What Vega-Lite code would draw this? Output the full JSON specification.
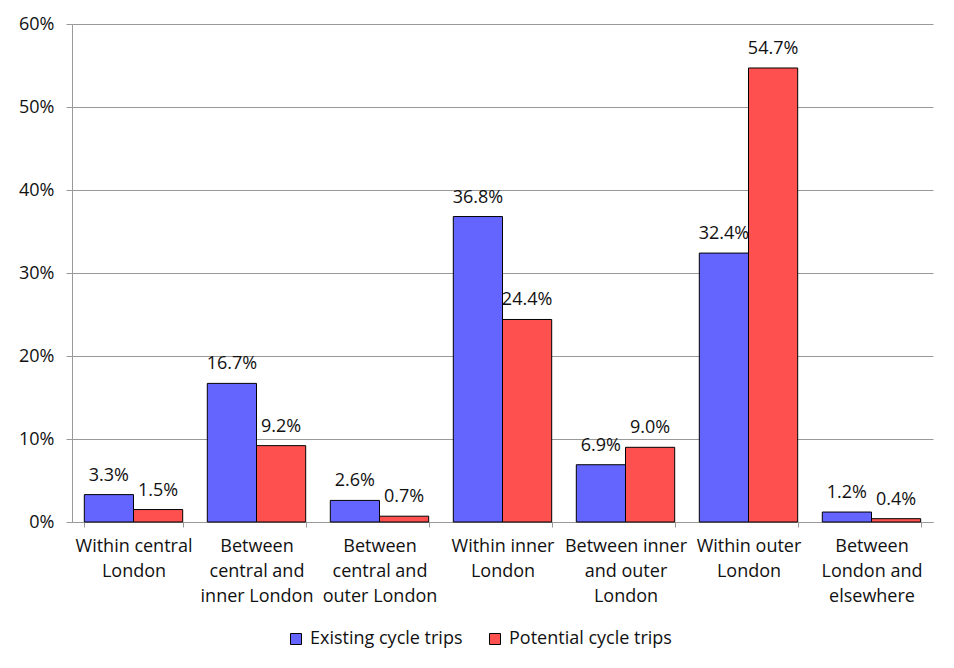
{
  "$schema": "https://vega.github.io/schema/vega-lite/v6.json",
  "width": 861,
  "height": 498,
  "autosize": {"type": "none"},
  "padding": {"left": 72, "top": 24, "right": 21, "bottom": 146},
  "background": "white",
  "config": {
    "font": "Open Sans",
    "view": {"stroke": null},
    "axis": {"labelFont": "Open Sans", "labelFontSize": 18, "labelColor": "#111111", "titleFont": "Open Sans"},
    "legend": {"labelFont": "Open Sans", "labelFontSize": 18, "labelColor": "#111111"}
  },
  "data": {
    "values": [
      {"category": "Within central|London", "series": "Existing cycle trips", "value": 0.033},
      {"category": "Within central|London", "series": "Potential cycle trips", "value": 0.015},
      {"category": "Between|central and|inner London", "series": "Existing cycle trips", "value": 0.167},
      {"category": "Between|central and|inner London", "series": "Potential cycle trips", "value": 0.092},
      {"category": "Between|central and|outer London", "series": "Existing cycle trips", "value": 0.026},
      {"category": "Between|central and|outer London", "series": "Potential cycle trips", "value": 0.007},
      {"category": "Within inner|London", "series": "Existing cycle trips", "value": 0.368},
      {"category": "Within inner|London", "series": "Potential cycle trips", "value": 0.244},
      {"category": "Between inner|and outer|London", "series": "Existing cycle trips", "value": 0.069},
      {"category": "Between inner|and outer|London", "series": "Potential cycle trips", "value": 0.090},
      {"category": "Within outer|London", "series": "Existing cycle trips", "value": 0.324},
      {"category": "Within outer|London", "series": "Potential cycle trips", "value": 0.547},
      {"category": "Between|London and|elsewhere", "series": "Existing cycle trips", "value": 0.012},
      {"category": "Between|London and|elsewhere", "series": "Potential cycle trips", "value": 0.004}
    ]
  },
  "encoding": {
    "x": {
      "field": "category",
      "type": "nominal",
      "sort": null,
      "scale": {"paddingInner": 0.2, "paddingOuter": 0.1},
      "axis": {
        "title": null,
        "labelAngle": 0,
        "labelExpr": "split(datum.label, '|')",
        "labelBaseline": "top",
        "labelPadding": 10,
        "labelLineHeight": 25,
        "labelLimit": 0,
        "tickBand": "extent",
        "tickSize": 5,
        "tickColor": "#999999",
        "domainColor": "#999999",
        "grid": false
      }
    },
    "xOffset": {"field": "series", "type": "nominal", "sort": ["Existing cycle trips", "Potential cycle trips"]},
    "y": {
      "field": "value",
      "type": "quantitative",
      "scale": {"domain": [0, 0.6], "nice": false},
      "axis": {
        "title": null,
        "format": ".0%",
        "values": [0, 0.1, 0.2, 0.3, 0.4, 0.5, 0.6],
        "tickSize": 6,
        "tickColor": "#999999",
        "domainColor": "#999999",
        "gridColor": "#999999",
        "labelPadding": 12
      }
    }
  },
  "layer": [
    {
      "mark": {"type": "bar", "stroke": "black", "strokeWidth": 1},
      "encoding": {
        "color": {
          "field": "series",
          "type": "nominal",
          "sort": ["Existing cycle trips", "Potential cycle trips"],
          "scale": {"domain": ["Existing cycle trips", "Potential cycle trips"], "range": ["#6464FF", "#FF5050"]},
          "legend": {
            "title": null,
            "orient": "none",
            "direction": "horizontal",
            "legendX": 215,
            "legendY": 606,
            "symbolType": "square",
            "symbolSize": 121,
            "symbolStrokeColor": "black",
            "symbolStrokeWidth": 1,
            "symbolOpacity": 1,
            "labelOffset": 5,
            "labelLimit": 0,
            "columnPadding": 23
          }
        }
      }
    },
    {
      "mark": {"type": "text", "baseline": "alphabetic", "dy": -14, "fontSize": 18, "color": "#111111"},
      "encoding": {
        "text": {"field": "value", "type": "quantitative", "format": ".1%"}
      }
    }
  ]
}
